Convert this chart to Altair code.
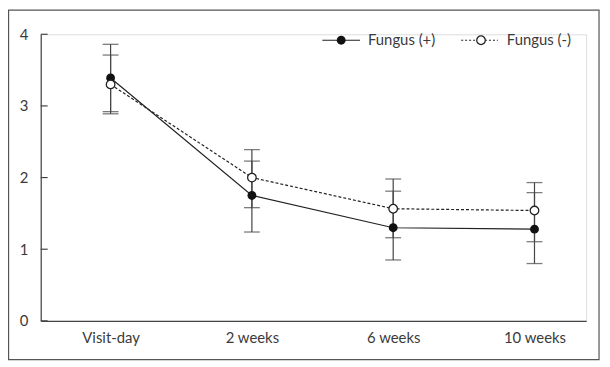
import altair as alt
import pandas as pd

# ---- data ----
times = ["Visit-day", "2 weeks", "6 weeks", "10 weeks"]
groups = ["Fungus (+)", "Fungus (-)"]
pos_mean = [3.39, 1.75, 1.30, 1.28]
pos_upper = [3.86, 2.23, 1.81, 1.79]
pos_lower = [2.92, 1.24, 0.85, 0.80]
neg_mean = [3.30, 2.00, 1.565, 1.54]
neg_upper = [3.71, 2.39, 1.98, 1.93]
neg_lower = [2.89, 1.58, 1.16, 1.105]
y_ticks = [0, 1, 2, 3, 4]

rows = []
for g, m, up, lo in [(groups[0], pos_mean, pos_upper, pos_lower),
                     (groups[1], neg_mean, neg_upper, neg_lower)]:
    for t, a, b, c in zip(times, m, up, lo):
        rows.append({"time": t, "group": g, "mean": a, "upper": b, "lower": c})
df = pd.DataFrame(rows)
df_pos = df[df.group == groups[0]]
df_neg = df[df.group == groups[1]]

FONT = "Lato"
W, H = 550, 289
INK = "#222222"
AX = "#444444"
TXT = "#3a3a3a"

xenc = alt.X("time:N", sort=times,
             scale=alt.Scale(type="point", padding=0.43, align=0.575),
             axis=alt.Axis(title=None, ticks=False, labelAngle=0, labelPadding=10,
                           labelFontSize=15, labelColor=TXT, labelFont=FONT,
                           domainColor=AX, domainWidth=1.2, grid=False))
yscale = alt.Scale(domain=[0, 4], nice=False)
yenc = alt.Y("mean:Q", scale=yscale,
             axis=alt.Axis(title=None, ticks=False, values=y_ticks, format="d",
                           labelPadding=13, labelFontSize=15, labelColor=TXT,
                           labelFont=FONT, domainColor=AX, domainWidth=1.2, grid=False))

base = alt.Chart(df)

err_rule = base.mark_rule(color=AX, strokeWidth=1.2).encode(
    x=xenc, y=alt.Y("lower:Q", scale=yscale), y2="upper:Q")
cap_lo = base.mark_tick(color=AX, size=16, thickness=1.3).encode(
    x=xenc, y=alt.Y("lower:Q", scale=yscale))
cap_hi = base.mark_tick(color=AX, size=16, thickness=1.3).encode(
    x=xenc, y=alt.Y("upper:Q", scale=yscale))

line_pos = alt.Chart(df_pos).mark_line(color=INK, strokeWidth=1.2).encode(x=xenc, y=yenc)
line_neg = alt.Chart(df_neg).mark_line(color=INK, strokeWidth=1.2, strokeDash=[3, 2]).encode(x=xenc, y=yenc)
pt_pos = alt.Chart(df_pos).mark_point(filled=True, color="#111111", size=80, opacity=1).encode(x=xenc, y=yenc)
pt_neg = alt.Chart(df_neg).mark_point(filled=True, fill="white", stroke=INK, strokeWidth=1.3,
                                      size=75, opacity=1).encode(x=xenc, y=yenc)

# inward y-axis ticks
tick_df = pd.DataFrame({"v": y_ticks})
yticks = alt.Chart(tick_df).mark_rule(color=AX, strokeWidth=1.2).encode(
    y=alt.Y("v:Q", scale=yscale), x=alt.value(0), x2=alt.value(7))

# manual legend
one = alt.Data(values=[{}])
leg = [
    alt.Chart(one).mark_rule(color=INK, strokeWidth=1.2).encode(
        x=alt.value(284), x2=alt.value(322), y=alt.value(6)),
    alt.Chart(one).mark_point(filled=True, color="#111111", size=80, opacity=1).encode(
        x=alt.value(303), y=alt.value(6)),
    alt.Chart(one).mark_text(align="left", baseline="middle", fontSize=15, font=FONT,
                             color=TXT).encode(
        x=alt.value(330), y=alt.value(6), text=alt.value(groups[0])),
    alt.Chart(one).mark_rule(color=INK, strokeWidth=1.2, strokeDash=[2, 2]).encode(
        x=alt.value(424), x2=alt.value(461), y=alt.value(6)),
    alt.Chart(one).mark_point(filled=True, fill="white", stroke=INK, strokeWidth=1.3,
                              size=75, opacity=1).encode(x=alt.value(444), y=alt.value(6)),
    alt.Chart(one).mark_text(align="left", baseline="middle", fontSize=15, font=FONT,
                             color=TXT).encode(
        x=alt.value(470), y=alt.value(6), text=alt.value(groups[1])),
]

frame = alt.Chart(one).mark_rect(fillOpacity=0, stroke="#555555", strokeWidth=1.2).encode(
    x=alt.value(-32.4), x2=alt.value(563), y=alt.value(-24.4), y2=alt.value(328))

chart = alt.layer(
    frame, err_rule, cap_lo, cap_hi, yticks, line_pos, line_neg, pt_pos, pt_neg, *leg
).properties(
    width=W, height=H,
    autosize=alt.AutoSizeParams(type="none"),
    padding={"left": 33, "top": 25, "right": 16, "bottom": 42},
).configure_view(stroke=None).configure(background="white")

chart.save("out.html", embed_options={"renderer": "svg", "actions": False})
